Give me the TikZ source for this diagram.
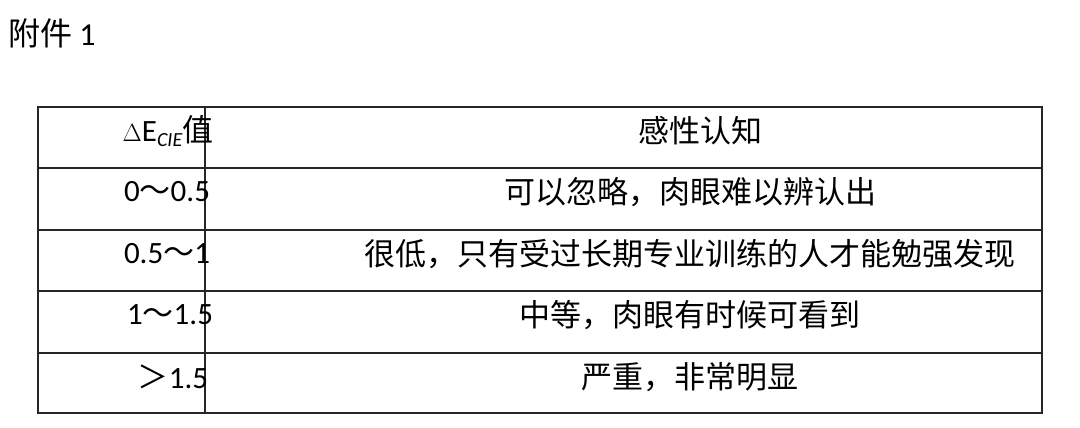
\documentclass[tikz,border=0pt]{standalone}
\usepackage{fontspec}
\setmainfont{Carlito}
\newfontfamily\cjk{Noto Sans CJK SC}
\begin{document}
\begin{tikzpicture}[x=1pt,y=-1pt,
  cell/.style={anchor=center,inner sep=0pt,font=\fontsize{31}{34}\selectfont},
  grid/.style={line width=1.2pt,black!85}]
\useasboundingbox (0,0) rectangle (1080,428);
\node[anchor=west,inner sep=0pt,font=\fontsize{32}{36}\selectfont] (title) at (8,33) {{\cjk 附件} 1};
\draw[grid] (38,107) rectangle (1042,413);
\foreach \y in {168,230,291,353} \draw[grid] (38,\y) -- (1042,\y);
\draw[grid] (205,107) -- (205,413);
\node[cell] (h1) at (168,131) {$\Delta$E\raisebox{-0.3ex}{\fontsize{20}{24}\selectfont\itshape CIE}{\cjk 值}};
\node[cell] (h2) at (700,131) {\cjk 感性认知};
\node[cell] (a1) at (167,192) {0{\cjk ～}0.5};
\node[cell] (b1) at (690,192) {\cjk 可以忽略，肉眼难以辨认出};
\node[cell] (a2) at (167,254) {0.5{\cjk ～}1};
\node[cell] (b2) at (690,254) {\cjk 很低，只有受过长期专业训练的人才能勉强发现};
\node[cell] (a3) at (170,315) {1{\cjk ～}1.5};
\node[cell] (b3) at (690,315) {\cjk 中等，肉眼有时候可看到};
\node[cell] (a4) at (173,377) {{\cjk ＞}1.5};
\node[cell] (b4) at (690,377) {\cjk 严重，非常明显};
\end{tikzpicture}
\end{document}
